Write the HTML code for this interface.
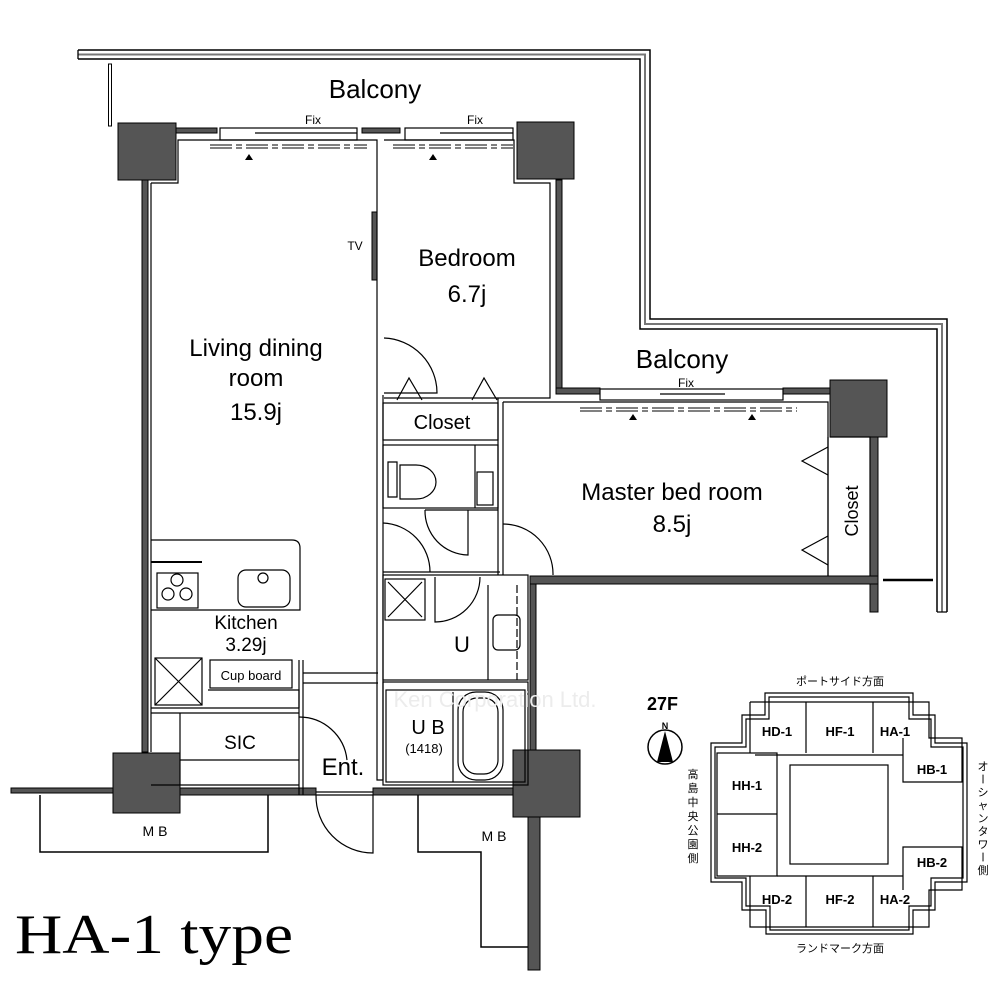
<!DOCTYPE html>
<html><head><meta charset="utf-8"><style>
html,body{margin:0;padding:0;background:#fff}
svg{display:block}
text{font-family:"Liberation Sans","Noto Sans CJK JP",sans-serif;fill:#000}
</style></head><body>
<svg width="1000" height="1000" viewBox="0 0 1000 1000" xmlns="http://www.w3.org/2000/svg">
<g fill="none" stroke="#000" stroke-width="1.3">
<path d="M78 50 H650 V319 H947 V612" stroke-width="1.5"/>
<path d="M78 54.5 H645 V324 H942 V612" stroke="#777" stroke-width="2"/>
<path d="M78 59 H640 V329 H937 V612" stroke-width="1.5"/>
<path d="M78 50 V59 M937 612 H947"/>
<rect x="108.5" y="64" width="3" height="62" stroke-width="1"/>
<line x1="883" y1="580" x2="933" y2="580" stroke-width="2.5"/>
</g>
<g fill="#555" stroke="#000" stroke-width="1">
<rect x="142" y="180" width="6" height="572"/>
<rect x="556" y="180" width="6" height="212"/>
<rect x="556" y="388" width="44" height="6"/>
<rect x="783" y="388" width="47" height="6"/>
<rect x="870" y="437" width="8" height="175"/>
<rect x="530" y="576" width="348" height="8"/>
<rect x="530" y="584" width="6" height="168"/>
<rect x="175" y="128" width="42" height="5"/>
<rect x="362" y="128" width="38" height="5"/>
<rect x="11" y="788" width="102" height="5"/>
<rect x="180" y="788" width="136" height="7"/>
<rect x="373" y="788" width="140" height="7"/>
<rect x="528" y="817" width="12" height="153"/>
<rect x="372" y="212" width="5" height="68"/>
<rect x="118" y="123" width="58" height="57"/>
<rect x="517" y="122" width="57" height="57"/>
<rect x="830" y="380" width="57" height="57"/>
<rect x="113" y="753" width="67" height="60"/>
<rect x="513" y="750" width="67" height="67"/>
</g>
<g fill="none" stroke="#000" stroke-width="1.2">
<rect x="220" y="128" width="137" height="12"/>
<line x1="255" y1="133" x2="357" y2="133"/>
<rect x="405" y="128" width="108" height="12"/>
<line x1="440" y1="133" x2="513" y2="133"/>
<rect x="600" y="389" width="183" height="11"/>
<line x1="660" y1="394" x2="725" y2="394"/>
<path d="M210 145 H367 M210 148 H367 M393 145 H513 M393 148 H513 M580 408 H797 M580 411 H797" stroke-dasharray="22 4 6 4" stroke-width="1"/>
<path d="M151 183 H178 V140 H377 V395 M384 140 H514 V183 H550 V398 H384"/>
<path d="M151 183 V752"/>
<path d="M377 395 V780 H383 M383 395 V780"/>
<rect x="383" y="403" width="115" height="37"/>
<rect x="383" y="445" width="115" height="63"/>
<line x1="475" y1="445" x2="475" y2="508"/>
<rect x="477" y="472" width="16" height="33"/>
<path d="M498 398 V575 M503 402 H828 V576 M503 402 V575"/>
<path d="M830 437 H870 V576 M828 437 V576"/>
<path d="M388 462 H397 V497 H388 Z M400 465 h16 a20 17 0 1 1 0 34 h-16 Z"/>
<path d="M383 523 A49 49 0 0 1 430 572 M383 572 H500"/>
<path d="M425 510 A44 44 0 0 0 468 555 V510 M425 510 H498"/>
<path d="M503 524 A50 50 0 0 1 553 575"/>
<path d="M384 338 A55 55 0 0 1 437 393 H384"/>
<path d="M397 400 L409 378 L422 400 M472 400 L484 378 L497 400"/>
<path d="M828 447 L802 461 L828 475 M828 536 L802 550 L828 565"/>
<rect x="383" y="575" width="145" height="105"/>
<rect x="385" y="579" width="40" height="41"/>
<path d="M388 582 L422 617 M422 582 L388 617"/>
<path d="M435 577 V622 A45 45 0 0 0 480 577"/>
<line x1="488" y1="585" x2="488" y2="680"/>
<line x1="517" y1="585" x2="517" y2="680" stroke-dasharray="8 3"/>
<rect x="493" y="615" width="27" height="35" rx="5"/>
<rect x="383" y="682" width="145" height="103"/>
<rect x="386" y="690" width="139" height="92"/>
<rect x="458" y="692" width="45" height="88" rx="18"/>
<rect x="463" y="698" width="35" height="76" rx="14"/>
<line x1="453" y1="692" x2="453" y2="782"/>
<path d="M151 540 H292 Q300 540 300 548 V610 H151"/>
<line x1="151" y1="562" x2="202" y2="562" stroke-width="2"/>
<rect x="157" y="573" width="41" height="35"/>
<circle cx="177" cy="580" r="6"/><circle cx="168" cy="594" r="6"/><circle cx="186" cy="594" r="6"/>
<rect x="238" y="570" width="52" height="37" rx="8"/>
<circle cx="263" cy="578" r="5"/>
<rect x="155" y="658" width="47" height="47"/>
<path d="M155 658 L202 705 M202 658 L155 705"/>
<rect x="210" y="660" width="82" height="28"/>
<path d="M299 660 V795 M303 660 V795 M303 673 H378 M303 683 H378"/>
<path d="M151 708 H299 M208 690 H299 V708 M151 713 H299 M180 713 V785 M180 760 H299 M151 785 H299"/>
<path d="M299 717 A48 48 0 0 1 347 760"/>
<path d="M316 795 A57 57 0 0 0 373 853 V795 M316 795 H373 M316 792 H373"/>
<path d="M40 795 V852 H268 V795" stroke-width="1.5"/>
<path d="M418 795 V852 H481 V947 H528" stroke-width="1.5"/>
</g>
<g fill="#000">
<path d="M245 160 L249 154 L253 160 Z M429 160 L433 154 L437 160 Z M629 420 L633 414 L637 420 Z M748 420 L752 414 L756 420 Z"/>
</g>
<text x="375" y="98" font-size="26" text-anchor="middle">Balcony</text>
<text x="313" y="124" font-size="12" text-anchor="middle">Fix</text>
<text x="475" y="124" font-size="12" text-anchor="middle">Fix</text>
<text x="682" y="368" font-size="26" text-anchor="middle">Balcony</text>
<text x="686" y="387" font-size="12" text-anchor="middle">Fix</text>
<text x="355" y="250" font-size="12" text-anchor="middle">TV</text>
<text x="467" y="266" font-size="24" text-anchor="middle">Bedroom</text>
<text x="467" y="302" font-size="24" text-anchor="middle">6.7j</text>
<text x="256" y="356" font-size="24" text-anchor="middle">Living dining</text>
<text x="256" y="386" font-size="24" text-anchor="middle">room</text>
<text x="256" y="420" font-size="24" text-anchor="middle">15.9j</text>
<text x="442" y="429" font-size="20" text-anchor="middle">Closet</text>
<text x="672" y="500" font-size="24" text-anchor="middle">Master bed room</text>
<text x="672" y="532" font-size="24" text-anchor="middle">8.5j</text>
<text x="0" y="0" font-size="18" text-anchor="middle" transform="translate(858,511) rotate(-90)">Closet</text>
<text x="246" y="629" font-size="19" text-anchor="middle">Kitchen</text>
<text x="246" y="651" font-size="19" text-anchor="middle">3.29j</text>
<text x="251" y="680" font-size="13" text-anchor="middle">Cup board</text>
<text x="240" y="749" font-size="19" text-anchor="middle">SIC</text>
<text x="343" y="775" font-size="24" text-anchor="middle">Ent.</text>
<text x="462" y="652" font-size="22" text-anchor="middle">U</text>
<text x="428" y="734" font-size="20" text-anchor="middle">U B</text>
<text x="424" y="753" font-size="13" text-anchor="middle">(1418)</text>
<text x="155" y="836" font-size="14" text-anchor="middle">M B</text>
<text x="494" y="841" font-size="14" text-anchor="middle">M B</text>
<text x="495" y="707" font-size="22" text-anchor="middle" style="fill:#ececec">Ken Corporation Ltd.</text>
<text x="15" y="953" font-size="56" textLength="278" lengthAdjust="spacingAndGlyphs" style="font-family:'Liberation Serif',serif">HA-1 type</text>
<text x="647" y="710" font-size="18" font-weight="bold">27F</text>
<text x="665" y="729" font-size="9" font-weight="bold" text-anchor="middle">N</text>
<circle cx="665" cy="747" r="17" fill="none" stroke="#000" stroke-width="1.5"/>
<path d="M665 731 L673 762 L657 762 Z" fill="#000"/>
<text x="840" y="685" font-size="11" text-anchor="middle">ポートサイド方面</text>
<text x="840" y="952" font-size="11" text-anchor="middle">ランドマーク方面</text>
<g font-size="11" text-anchor="middle">
<text x="693" y="778">高</text><text x="693" y="792">島</text><text x="693" y="806">中</text><text x="693" y="820">央</text><text x="693" y="834">公</text><text x="693" y="848">園</text><text x="693" y="862">側</text>
<text x="983" y="770">オ</text><text x="983" y="783" transform="rotate(90 983 779)">ー</text><text x="983" y="796">シ</text><text x="983" y="809">ャ</text><text x="983" y="822">ン</text><text x="983" y="835">タ</text><text x="983" y="848">ワ</text><text x="983" y="861" transform="rotate(90 983 857)">ー</text><text x="983" y="874">側</text>
</g>
<g fill="none" stroke="#000" stroke-width="1.2">
<path d="M765 693 H913 V715 H935 V743 H967 V882 H935 V910 H913 V934 H766 V910 H742 V882 H711 V743 H742 V715 H765 Z"/>
<path d="M769 697 H909 V719 H931 V747 H963 V878 H931 V906 H909 V930 H770 V906 H746 V878 H715 V747 H746 V719 H769 Z"/>
<path d="M750 702 H929 V738 H962 V782 H903 V738 M750 702 V753 M806 702 V753 M873 702 V753 M755 755 H903"/>
<rect x="717" y="753" width="60" height="123"/>
<line x1="717" y1="814" x2="777" y2="814"/>
<rect x="790" y="765" width="98" height="99"/>
<path d="M750 876 V927 H929 V890 H962 V847 H903 V890 M806 876 V927 M873 876 V927 M777 876 H903"/>
</g>
<g font-size="13" font-weight="bold" text-anchor="middle">
<text x="777" y="736">HD-1</text><text x="840" y="736">HF-1</text><text x="895" y="736">HA-1</text>
<text x="932" y="774">HB-1</text><text x="747" y="790">HH-1</text><text x="747" y="852">HH-2</text>
<text x="932" y="867">HB-2</text><text x="777" y="904">HD-2</text><text x="840" y="904">HF-2</text><text x="895" y="904">HA-2</text>
</g>
</svg>
</body></html>
